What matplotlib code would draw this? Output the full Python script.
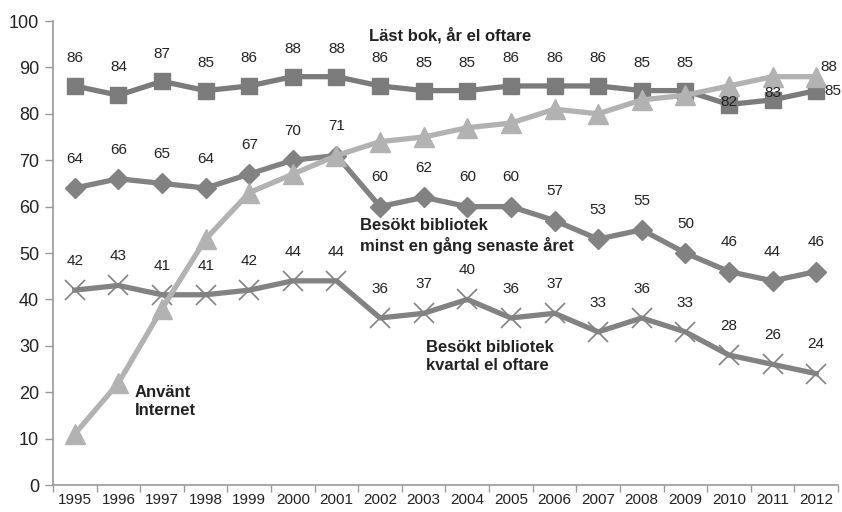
import matplotlib
matplotlib.use("Agg")
import matplotlib.pyplot as plt
import numpy as np

years = [str(y) for y in range(1995, 2013)]
last_bok = [86, 84, 87, 85, 86, 88, 88, 86, 85, 85, 86, 86, 86, 85, 85, 82, 83, 85]
bibl_ar = [64, 66, 65, 64, 67, 70, 71, 60, 62, 60, 60, 57, 53, 55, 50, 46, 44, 46]
bibl_kv = [42, 43, 41, 41, 42, 44, 44, 36, 37, 40, 36, 37, 33, 36, 33, 28, 26, 24]
internet = [11, 22, 38, 53, 63, 67, 71, 74, 75, 77, 78, 81, 80, 83, 84, 86, 88, 88]

plt.rcParams['font.family'] = ['Liberation Sans', 'DejaVu Sans']

fig = plt.figure(figsize=(8.42, 5.12), dpi=100)
ax = fig.add_axes([53/842, 27/512, (838-53)/842, (485-21)/512])

x = np.arange(len(years))
dark = '#7b7b7b'
mid = '#828282'
light = '#b2b2b2'

ax.plot(x, last_bok, color=dark, lw=3.8, marker='s', ms=11.5, zorder=3)
ax.plot(x, bibl_ar, color=mid, lw=3.8, marker='D', ms=10.5, zorder=3)
ax.plot(x, bibl_kv, color=mid, lw=3.8, marker='x', ms=14, mew=1.2, zorder=3)
ax.plot(x, internet, color=light, lw=3.8, marker='^', ms=14.5, zorder=4)

lab_kw = dict(ha='center', va='center', fontsize=11, color='#222222')
off = 20
for i in range(len(x)):
    if i == 15:
        ax.annotate(str(last_bok[i]), (x[i], last_bok[i]), xytext=(0, 2), textcoords='offset points', **lab_kw, zorder=5)
    elif i == 16:
        ax.annotate(str(last_bok[i]), (x[i], last_bok[i]), xytext=(0, 5), textcoords='offset points', **lab_kw, zorder=5)
    elif i == 17:
        ax.annotate(str(last_bok[i]), (x[i], last_bok[i]), xytext=(6, 0), textcoords='offset points',
                    ha='left', va='center', fontsize=11, color='#222222', zorder=5)
    else:
        ax.annotate(str(last_bok[i]), (x[i], last_bok[i]), xytext=(0, off), textcoords='offset points', **lab_kw)
    ax.annotate(str(bibl_ar[i]), (x[i], bibl_ar[i]), xytext=(0, 21), textcoords='offset points', **lab_kw)
    ax.annotate(str(bibl_kv[i]), (x[i], bibl_kv[i]), xytext=(0, 21), textcoords='offset points', **lab_kw)
ax.annotate(str(internet[-1]), (x[-1], internet[-1]), xytext=(3, 7), textcoords='offset points',
            ha='left', va='center', fontsize=11, color='#222222')

tkw = dict(fontsize=12, fontweight='bold', color='#222222', linespacing=1.25)
ax.text(8.6, 97, 'Läst bok, år el oftare', ha='center', va='center', **tkw)
ax.text(6.54, 53.7, 'Besökt bibliotek\nminst en gång senaste året', ha='left', va='center', **tkw)
ax.text(8.05, 27.8, 'Besökt bibliotek\nkvartal el oftare', ha='left', va='center', **tkw)
ax.text(1.38, 17.9, 'Använt\nInternet', ha='left', va='center', **tkw)

ax.set_xlim(-0.5, len(years) - 0.5)
ax.set_ylim(0, 100)
ax.set_yticks(range(0, 101, 10))
ax.tick_params(axis='y', labelsize=13, colors='#222222', length=6, width=1, color='#999999', pad=4)
ax.set_xticks(np.arange(-0.5, len(years), 1))
ax.set_xticklabels([])
ax.set_xticks(x, minor=True)
ax.set_xticklabels(years, minor=True)
ax.tick_params(axis='x', which='major', length=5, width=1, color='#999999')
ax.tick_params(axis='x', which='minor', length=0, labelsize=11, colors='#222222', pad=6)
for s in ['top', 'right']:
    ax.spines[s].set_visible(False)
for s in ['left', 'bottom']:
    ax.spines[s].set_color('#999999')
    ax.spines[s].set_linewidth(1.2)

fig.savefig('out.png', dpi=100)
